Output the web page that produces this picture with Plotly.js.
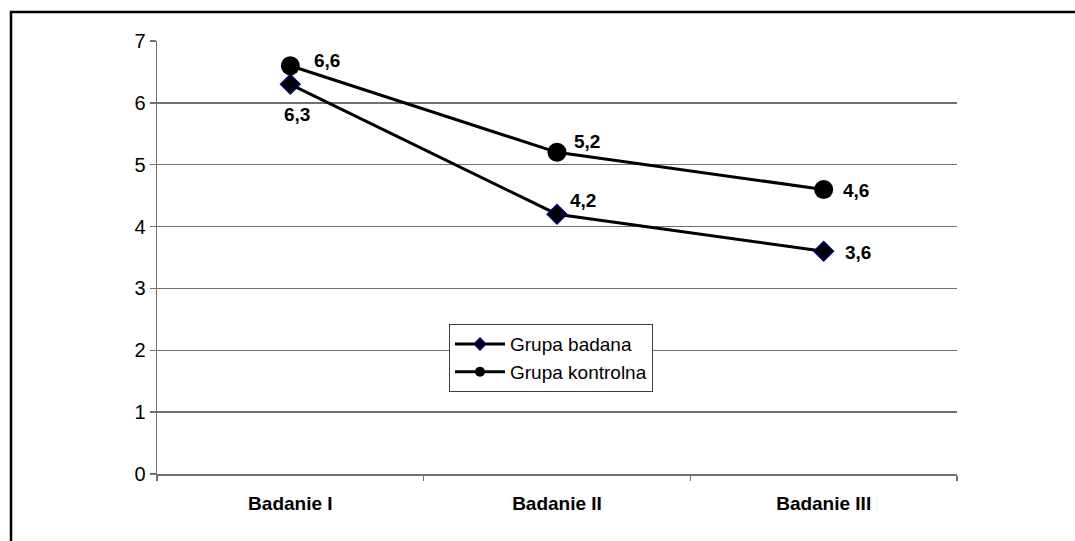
<!DOCTYPE html>
<html>
<head>
<meta charset="utf-8">
<script src="https://cdn.plot.ly/plotly-3.0.1.min.js"></script>
<style>html,body{margin:0;padding:0;background:#fff;}#chart{width:1075px;height:541px;}</style>
</head>
<body>
<div id="chart"></div>
<script>
const categories = ["Badanie I", "Badanie II", "Badanie III"];
const badana = [6.3, 4.2, 3.6];
const kontrolna = [6.6, 5.2, 4.6];
const badanaLabels = ["6,3", "4,2", "3,6"];
const kontrolnaLabels = ["6,6", "5,2", "4,6"];
const yTicks = [0, 1, 2, 3, 4, 5, 6, 7];
const seriesNames = ["Grupa badana", "Grupa kontrolna"];

// label offsets (pixels) — layout only
const badanaShift = [[7, -30], [26, 14], [34, -1]];
const kontrolnaShift = [[37, 5], [30, 11], [32, -1]];

const FONT = "Liberation Sans, Arial, sans-serif";

const diamondMarker = (size) => ({symbol: "diamond", size: size, color: "#000000", line: {color: "#000080", width: 1.5}});
const circleMarker = (size) => ({symbol: "circle", size: size, color: "#000000", line: {color: "#000000", width: 0}});

const traces = [
  {
    x: categories, y: badana, name: seriesNames[0], type: "scatter", mode: "lines+markers",
    line: {color: "#000000", width: 3}, marker: diamondMarker(15), showlegend: false
  },
  {
    x: categories, y: kontrolna, name: seriesNames[1], type: "scatter", mode: "lines+markers",
    line: {color: "#000000", width: 3}, marker: circleMarker(19), showlegend: false
  },
  // legend entries (smaller symbols, as in the original)
  {
    x: [null], y: [null], name: seriesNames[0], type: "scatter", mode: "lines+markers",
    line: {color: "#000000", width: 3}, marker: diamondMarker(9), showlegend: true
  },
  {
    x: [null], y: [null], name: seriesNames[1], type: "scatter", mode: "lines+markers",
    line: {color: "#000000", width: 3}, marker: circleMarker(10), showlegend: true
  }
];

const annotations = [];
categories.forEach((c, i) => {
  annotations.push({x: c, y: badana[i], text: badanaLabels[i], showarrow: false,
    xanchor: "center", yanchor: "middle", xshift: badanaShift[i][0], yshift: badanaShift[i][1],
    font: {family: FONT, size: 19, color: "#000", weight: "bold"}});
  annotations.push({x: c, y: kontrolna[i], text: kontrolnaLabels[i], showarrow: false,
    xanchor: "center", yanchor: "middle", xshift: kontrolnaShift[i][0], yshift: kontrolnaShift[i][1],
    font: {family: FONT, size: 19, color: "#000", weight: "bold"}});
});

const layout = {
  width: 1075, height: 541,
  margin: {l: 157, r: 118, t: 41, b: 67, pad: 0},
  paper_bgcolor: "#ffffff", plot_bgcolor: "#ffffff",
  font: {family: FONT, size: 19, color: "#000"},
  showlegend: true,
  legend: {
    x: 0.365, y: 0.346, xanchor: "left", yanchor: "top",
    bgcolor: "#ffffff", bordercolor: "#404040", borderwidth: 1,
    font: {family: FONT, size: 19, color: "#000"},
    itemwidth: 50, tracegroupgap: 0
  },
  xaxis: {
    type: "category", range: [-0.5, 2.5], showgrid: false,
    showline: true, linecolor: "#707070", linewidth: 1.5,
    ticks: "outside", tickson: "boundaries", ticklen: 5, tickcolor: "#707070", tickwidth: 1.5,
    tickfont: {family: FONT, size: 19, color: "#000", weight: "bold"},
    ticklabelstandoff: 12, fixedrange: true, zeroline: false
  },
  yaxis: {
    range: [0, 7], tickvals: yTicks, ticktext: yTicks.map(String),
    showgrid: true, gridcolor: "#707070", gridwidth: 1.5,
    showline: true, linecolor: "#707070", linewidth: 1.5,
    ticks: "outside", ticklen: 6, tickcolor: "#707070", tickwidth: 1.5,
    tickfont: {family: FONT, size: 20, color: "#000"},
    zeroline: false, fixedrange: true
  },
  annotations: annotations,
  shapes: [{
    type: "rect", xref: "paper", yref: "paper",
    x0: -0.1825, x1: 1.16, y0: -0.17, y1: 1.067,
    line: {color: "#000000", width: 2.5}, fillcolor: "rgba(0,0,0,0)", layer: "below"
  }]
};

Plotly.newPlot("chart", traces, layout, {displayModeBar: false, staticPlot: true});
</script>
</body>
</html>
